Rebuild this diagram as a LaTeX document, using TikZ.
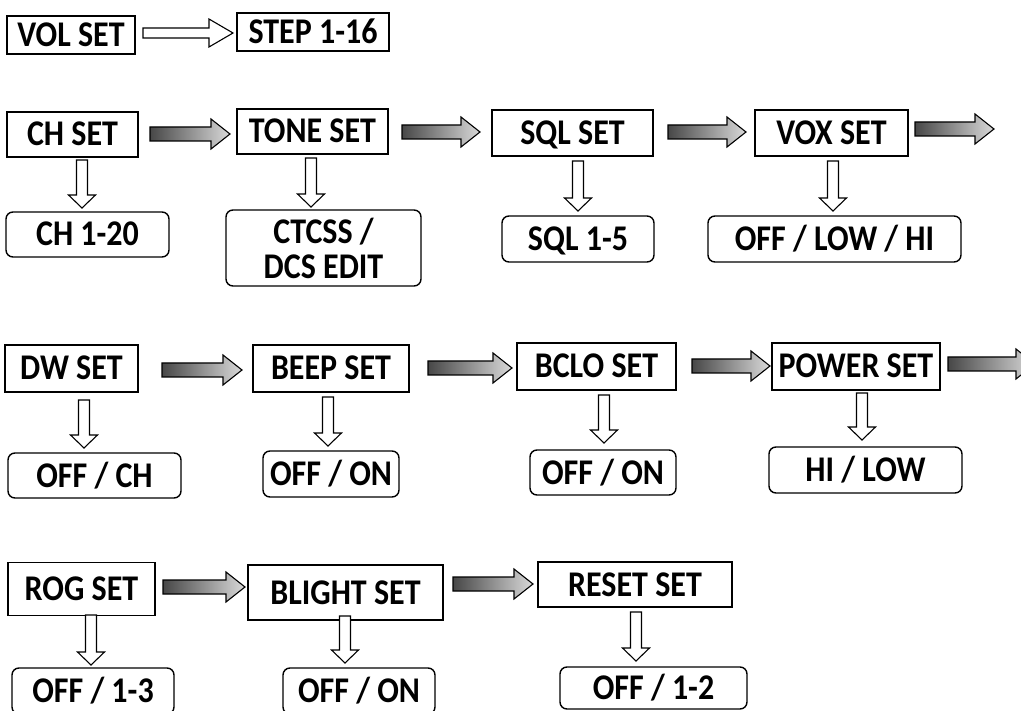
\documentclass[tikz,border=0pt]{standalone}
\usepackage{fontspec}
\usepackage{graphicx}
\setmainfont{Carlito}
\newcommand\stx[1]{\scalebox{1}[1.13]{#1}}
\begin{document}
\begin{tikzpicture}[x=1pt,y=-1pt,
  setbox/.style={draw=black, line width=1.4pt, fill=white, inner sep=0pt,
    font=\fontsize{32}{32}\selectfont\bfseries, text height=23pt, text depth=0pt},
  valbox/.style={setbox, rounded corners=7pt},
  garr/.style={draw=black, line width=1.1pt, left color=black!72, right color=black!15},
  hollow/.style={draw=black, line width=1.1pt, fill=white}]
\useasboundingbox (0,0) rectangle (1021,711);
\clip (0,0) rectangle (1021,711);
\newcommand\garrow[3]{%
  \shadedraw[garr] (#1,#3-7) -- (#2-19,#3-7) -- (#2-19,#3-15) -- (#2,#3) --
    (#2-19,#3+15) -- (#2-19,#3+7) -- (#1,#3+7) -- cycle;}
\newcommand\darrow[3]{%
  \draw[hollow] (#1-5.5,#2) -- (#1+5.5,#2) -- (#1+5.5,#3-13) -- (#1+13.5,#3-13) --
    (#1,#3) -- (#1-13.5,#3-13) -- (#1-5.5,#3-13) -- cycle;}

% row 0
\node[setbox, minimum width=128, minimum height=38] (vol) at (71,35) {\stx{VOL SET}};
\node[setbox, minimum width=152, minimum height=38] (step) at (313,32) {\stx{STEP 1-16}};
\draw[hollow] (143,28) -- (209,28) -- (209,19) -- (233,33) -- (209,47) -- (209,38) -- (143,38) -- cycle;

% row 1
\node[setbox, minimum width=131, minimum height=45] (ch) at (72.5,134.5) {\stx{CH SET}};
\node[setbox, minimum width=151, minimum height=45] (tone) at (312.5,131.5) {\stx{TONE SET}};
\node[setbox, minimum width=161, minimum height=46] (sql) at (572.5,133) {\stx{SQL SET}};
\node[setbox, minimum width=153, minimum height=46] (vox) at (831.5,133) {\stx{VOX SET}};
\garrow{150}{230}{134}
\garrow{402}{480}{132}
\garrow{668}{746}{132}
\garrow{915}{994}{129}
\darrow{82}{160}{208}
\darrow{311}{158}{207}
\darrow{578}{161}{211}
\darrow{833}{161}{211}
\node[valbox, minimum width=163, minimum height=45] (ch20) at (87.5,234.5) {\stx{CH 1-20}};
\node[valbox, minimum width=195, minimum height=76, align=center, text height=, text depth=] (ctcss) at (323.5,248) {\stx{CTCSS /}\\[3pt]\stx{DCS EDIT}};
\node[valbox, minimum width=152, minimum height=46] (sql15) at (578,239) {\stx{SQL 1-5}};
\node[valbox, minimum width=253, minimum height=46] (olh) at (834.5,239) {\stx{OFF / LOW / HI}};

% row 2
\node[setbox, minimum width=133, minimum height=47] (dw) at (71.5,368.5) {\stx{DW SET}};
\node[setbox, minimum width=156, minimum height=47] (beep) at (331,368.5) {\stx{BEEP SET}};
\node[setbox, minimum width=159, minimum height=47] (bclo) at (596.5,366.5) {\stx{BCLO SET}};
\node[setbox, minimum width=168, minimum height=47] (power) at (856,366.5) {\stx{POWER SET}};
\garrow{162}{242}{370}
\garrow{428}{512}{368}
\garrow{692}{770}{366}
\garrow{948}{1035}{364}
\darrow{84}{400}{448}
\darrow{328}{397}{446}
\darrow{604}{395}{443}
\darrow{862}{393}{440}
\node[valbox, minimum width=173, minimum height=45] (offch) at (94.5,475.5) {\stx{OFF / CH}};
\node[valbox, minimum width=136, minimum height=46] (offon1) at (331,474) {\stx{OFF / ON}};
\node[valbox, minimum width=146, minimum height=45] (offon2) at (603,472.5) {\stx{OFF / ON}};
\node[valbox, minimum width=193, minimum height=46] (hilow) at (865.5,470) {\stx{HI / LOW}};

% row 3
\node[setbox, minimum width=147, minimum height=53] (rog) at (81.5,589) {\stx{ROG SET}};
\node[setbox, minimum width=195, minimum height=55] (blight) at (345.5,592.5) {\stx{BLIGHT SET}};
\node[setbox, minimum width=194, minimum height=45] (reset) at (635,584.5) {\stx{RESET SET}};
\garrow{163}{245}{587}
\garrow{453}{533}{584}
\darrow{91}{615}{665}
\darrow{345}{616}{663}
\darrow{636}{612}{661}
\node[valbox, minimum width=162, minimum height=46] (off13) at (93,691) {\stx{OFF / 1-3}};
\node[valbox, minimum width=152, minimum height=46] (offon3) at (359,691) {\stx{OFF / ON}};
\node[valbox, minimum width=187, minimum height=42] (off12) at (653.5,688) {\stx{OFF / 1-2}};
\end{tikzpicture}
\end{document}
